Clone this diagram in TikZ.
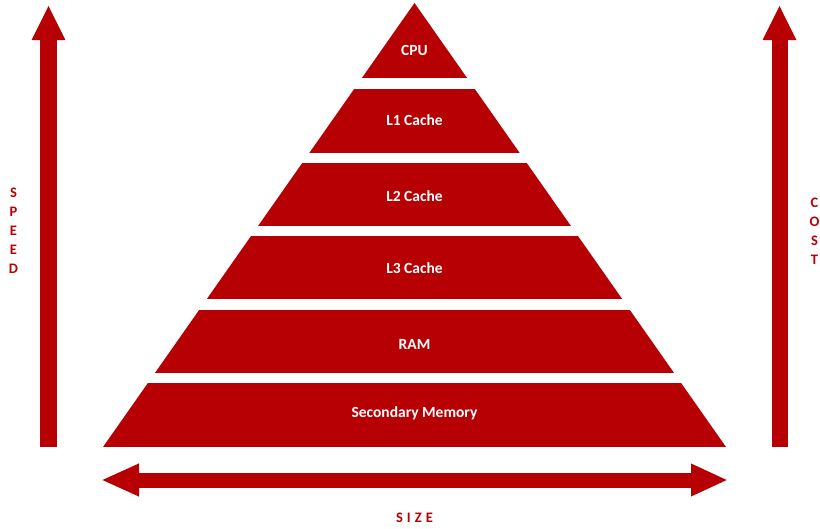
\documentclass[tikz,border=0pt]{standalone}
\usepackage{fontspec}
\setmainfont{Carlito}
\usetikzlibrary{arrows.meta}

\definecolor{pyramidRed}{RGB}{183,0,4}

\tikzset{
  layerText/.style={text=white, font=\fontsize{15.5}{17}\selectfont\bfseries},
  axisText/.style={text=pyramidRed, font=\fontsize{14.5}{19}\selectfont\bfseries, align=center},
  axisArrow/.style={draw=pyramidRed, line width=17pt, -{Triangle[width=31pt,length=35pt]}},
}

\begin{document}
\begin{tikzpicture}[x=1pt,y=-1pt]
    \useasboundingbox (0,0) rectangle (820,528);

    % pyramid outline
    \coordinate (apex) at (414.5,3);
    \coordinate (baseLeft) at (103,447);
    \coordinate (baseRight) at (726,447);

    \begin{scope}
      \clip (apex) -- (baseLeft) -- (baseRight) -- cycle;
      \foreach \top/\bot/\name/\ty/\label in {3/78/cpu/50/CPU, 89/153/lOne/120/L1 Cache,
          163/226/lTwo/196/L2 Cache, 236/299/lThree/268/L3 Cache,
          310/373/ram/344/RAM, 383/447/secondary/413/Secondary Memory} {
        \fill[pyramidRed] (0,\top) rectangle (820,\bot);
        \node[layerText] (\name) at (414.5,\ty) {\label};
      }
    \end{scope}

    % speed and cost axes
    \coordinate (speedBottom) at (48.5,447);
    \coordinate (speedTop) at (48.5,5);
    \coordinate (costBottom) at (779.5,447);
    \coordinate (costTop) at (779.5,5);
    \draw[axisArrow] (speedBottom) -- (speedTop);
    \draw[axisArrow, line width=16pt] (costBottom) -- (costTop);

    % size axis
    \coordinate (sizeLeft) at (101,480);
    \coordinate (sizeRight) at (728,480);
    \draw[draw=pyramidRed, line width=15pt,
      {Triangle[width=30pt,length=38pt]}-{Triangle[width=30pt,length=37pt]}]
      (sizeLeft) -- (sizeRight);

    \node[axisText] (speed) at (13.5,231) {S\\P\\E\\E\\D};
    \node[axisText] (cost) at (814.5,231.5) {C\\O\\S\\T};
    \node[axisText] (size) at (414.5,518) {S\hspace{4pt}I\hspace{4pt}Z\hspace{4pt}E};
  \end{tikzpicture}
\end{document}
